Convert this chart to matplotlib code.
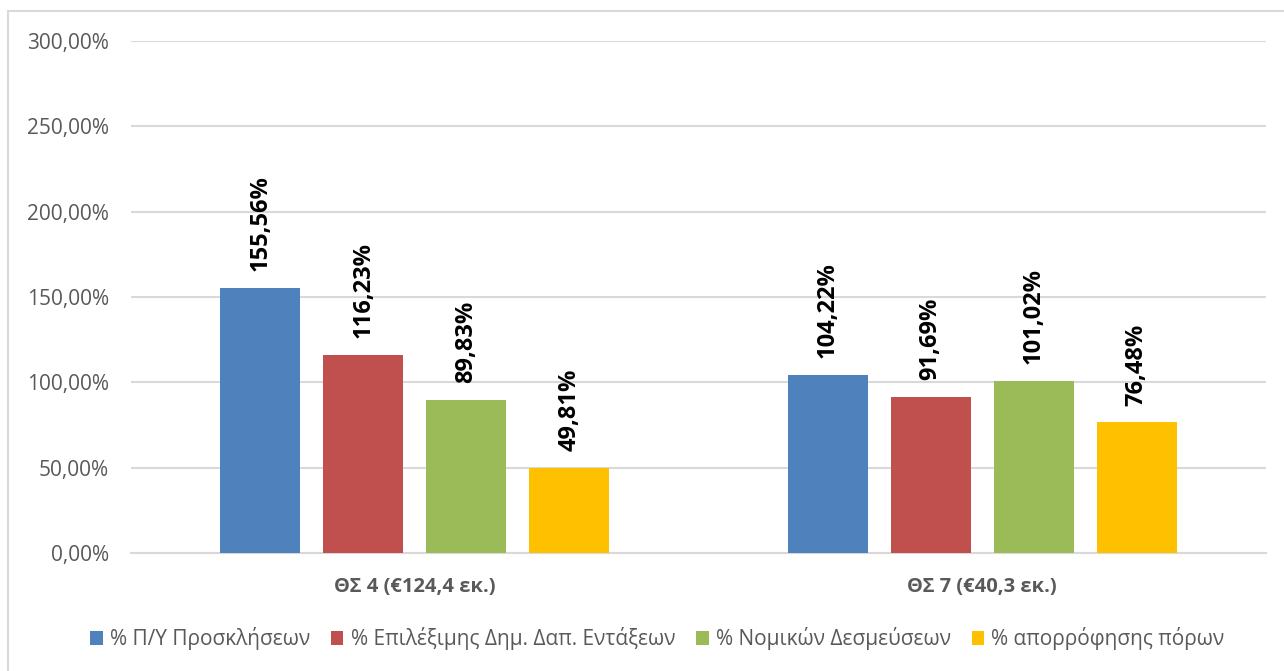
import matplotlib
matplotlib.use('Agg')
import matplotlib.pyplot as plt
from matplotlib.patches import Rectangle
import numpy as np

plt.rcParams['font.family'] = ['Open Sans', 'DejaVu Sans']

# ── Dados ─────────────────────────────────────────────────────────────────────
categorias = ['ΘΣ 4 (€124,4 εκ.)', 'ΘΣ 7 (€40,3 εκ.)']
series = ['% Π/Υ Προσκλήσεων', '% Επιλέξιμης Δημ. Δαπ. Εντάξεων',
          '% Νομικών Δεσμεύσεων', '% απορρόφησης πόρων']
valores = [
    [155.56, 104.22],
    [116.23, 91.69],
    [89.83, 101.02],
    [49.81, 76.48],
]
cores = ['#4F81BD', '#C0504D', '#9BBB59', '#FFC000']
yticks = [0, 50, 100, 150, 200, 250, 300]

GRID = '#D9D9D9'
TXT = '#595959'

fig = plt.figure(figsize=(12.84, 6.71), dpi=100)
ax = fig.add_axes([131/1284, 1 - 553/671, (1266 - 131)/1284, (553 - 41)/671])

x = np.arange(len(categorias))
w = 0.141
passo = 0.1815
for i, (nome, vals, cor) in enumerate(zip(series, valores, cores)):
    pos = x + (i - 1.5) * passo
    bars = ax.bar(pos, vals, w, color=cor, label=nome, zorder=3)
    for b, v in zip(bars, vals):
        ax.annotate(f'{v:.2f}%'.replace('.', ','),
                    xy=(b.get_x() + b.get_width() / 2, b.get_height()),
                    xytext=(0, 12), textcoords='offset points',
                    rotation=90, ha='center', va='bottom',
                    fontsize=17, fontweight='bold', color='black')

ax.set_xlim(-0.5, 1.5)
ax.set_ylim(0, 300)
ax.set_yticks(yticks)
ax.set_yticklabels([f'{t:.2f}%'.replace('.', ',') for t in yticks])
ax.set_xticks(x)
ax.set_xticklabels(categorias, fontweight='bold')
ax.tick_params(axis='y', length=0, pad=16, labelsize=15, labelcolor=TXT)
ax.tick_params(axis='x', length=0, pad=17, labelsize=14.5, labelcolor=TXT)
ax.grid(True, axis='y', color=GRID, linewidth=1.5, zorder=0)
for s in ['top', 'right', 'left']:
    ax.spines[s].set_visible(False)
ax.spines['bottom'].set_color(GRID)
ax.spines['bottom'].set_linewidth(1.5)

fig.legend(loc='center', bbox_to_anchor=(0.512, 0.048), ncol=4, frameon=False,
           fontsize=15, labelcolor=TXT, handlelength=0.6, handleheight=0.6,
           handletextpad=0.35, columnspacing=1.0)

fig.patches.append(Rectangle((8/1284, -0.1), 2, 1 - 11/671 + 0.1,
                             transform=fig.transFigure, fill=False,
                             edgecolor=GRID, linewidth=1.5))

plt.savefig('out.png', dpi=100)
